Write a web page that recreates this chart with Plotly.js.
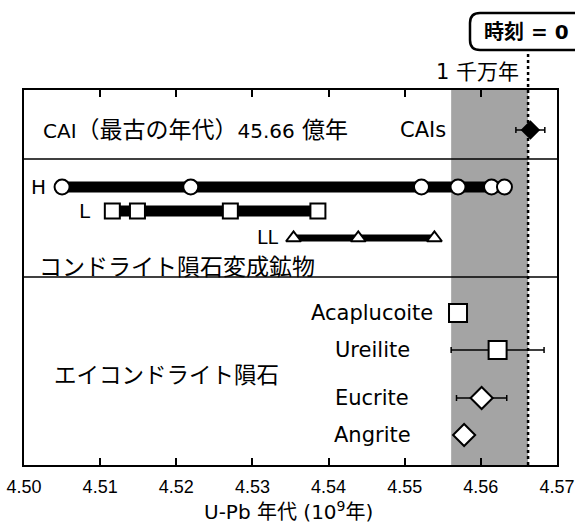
<!DOCTYPE html>
<html><head><meta charset="utf-8">
<script src="https://cdn.plot.ly/plotly-3.0.1.min.js"></script>
<style>html,body{margin:0;padding:0;background:#fff}#chart{width:575px;height:531px}</style>
</head><body><div id="chart"></div>
<script>
// ---------------- data ----------------
const caiAge = [4.5665];
const caiErr = [0.0019];
const hAges = [4.5050, 4.5219, 4.5522, 4.5570, 4.5614, 4.5631];
const lAges = [4.5116, 4.5149, 4.5271, 4.5386];
const llAges = [4.5354, 4.5439, 4.5539];
const achondrites = ['Acaplucoite', 'Ureilite', 'Eucrite', 'Angrite'];
const achondriteAges = [4.5570, 4.5622, 4.5601, 4.5578];
const achondriteErr = [0, 0.0061, 0.0033, 0];
const shadeRange = [4.5561, 4.5662];   // 1千万年 window
const timeZero = 4.5662;               // 時刻 = 0
const xTicks = [4.50, 4.51, 4.52, 4.53, 4.54, 4.55, 4.56, 4.57];
const xTickLabels = ['4.50', '4.51', '4.52', '4.53', '4.54', '4.55', '4.56', '4.57'];

// ---------------- layout helpers ----------------
const W = 575, H = 531;
const PL = 24, PR = 557, PT = 90, PB = 465;
const fx = px => (px - PL) / (PR - PL);
const fy = py => (PB - py) / (PB - PT);
// row positions (y axis runs in screen units, top = 90, bottom = 465)
const rowY = {CAI: 130, H: 187, L: 211, LL: 238,
  Acaplucoite: 313, Ureilite: 350, Eucrite: 398, Angrite: 435};
const achStyle = {
  Acaplucoite: {symbol: 'square', size: 18},
  Ureilite: {symbol: 'square', size: 18},
  Eucrite: {symbol: 'diamond', size: 17},
  Angrite: {symbol: 'diamond', size: 17}
};
const LAT = 'DejaVu Sans, Noto Sans CJK JP, sans-serif';
const JP = 'Noto Sans CJK JP, sans-serif';
const rep = (v, n) => Array(n).fill(v);
const openMarker = (symbol, size) => ({symbol, size, color: 'white', line: {color: 'black', width: 2}});

const traces = [
  {x: hAges, y: rep(rowY.H, hAges.length), type: 'scatter', mode: 'lines+markers',
   line: {color: 'black', width: 11}, marker: openMarker('circle', 15), hoverinfo: 'x'},
  {x: lAges, y: rep(rowY.L, lAges.length), type: 'scatter', mode: 'lines+markers',
   line: {color: 'black', width: 11}, marker: openMarker('square', 15), hoverinfo: 'x'},
  {x: llAges, y: rep(rowY.LL, llAges.length), type: 'scatter', mode: 'lines+markers',
   line: {color: 'black', width: 7}, marker: openMarker('triangle-up', 13), hoverinfo: 'x'},
  {x: caiAge, y: [rowY.CAI], type: 'scatter', mode: 'markers',
   marker: {symbol: 'diamond', size: 15, color: 'black'},
   error_x: {type: 'data', array: caiErr, color: 'black', thickness: 1.5, width: 3}, hoverinfo: 'x'}
];
achondrites.forEach((name, i) => {
  const st = achStyle[name];
  traces.push({x: [achondriteAges[i]], y: [rowY[name]], type: 'scatter', mode: 'markers',
    marker: openMarker(st.symbol, st.size), name,
    error_x: {type: 'data', array: [achondriteErr[i]], visible: achondriteErr[i] > 0,
              color: 'black', thickness: 1.5, width: 3}, hoverinfo: 'x+name'});
});

const ann = (text, px, py, xanchor, size, family) => ({
  text, x: fx(px), y: fy(py), xref: 'paper', yref: 'paper', xanchor, yanchor: 'middle',
  showarrow: false, font: {size, family, color: 'black'}
});
const lat = (t, s) => `<span style="font-family:DejaVu Sans;font-size:${s}px">${t}</span>`;

const annotations = [
  ann(lat('CAI', 20) + '（最古の年代）' + lat('45.66', 20) + ' 億年', 41, 130, 'left', 23, LAT),
  ann('CAIs', 398, 130, 'left', 21, LAT),
  ann('H', 48, 187, 'right', 20, LAT),
  ann('L', 93, 211, 'right', 20, LAT),
  ann('LL', 281, 237, 'right', 19, LAT),
  ann('コンドライト隕石変成鉱物', 37, 265, 'left', 23, JP),
  ann('エイコンドライト隕石', 52, 373, 'left', 22.5, JP),
  ann('1 千万年', 521, 72, 'right', 21, LAT),
  ann('<b>時刻 = 0</b>', 482, 32, 'left', 20, LAT),
  ann('U-Pb 年代 (10<sup>9</sup>年)', 288, 511, 'center', 20, LAT)
];
achondrites.forEach(name => annotations.push(ann(name, 372, rowY[name], 'center', 21, LAT)));

// rounded box for 時刻 = 0
const bx0 = 470, bx1 = 600, by0 = 13, by1 = 50, r = 10;
const boxPath = [
  `M${fx(bx0 + r)},${fy(by0)}`, `L${fx(bx1)},${fy(by0)}`, `L${fx(bx1)},${fy(by1)}`,
  `L${fx(bx0 + r)},${fy(by1)}`, `Q${fx(bx0)},${fy(by1)} ${fx(bx0)},${fy(by1 - r)}`,
  `L${fx(bx0)},${fy(by0 + r)}`, `Q${fx(bx0)},${fy(by0)} ${fx(bx0 + r)},${fy(by0)}`, 'Z'
].join(' ');

const shapes = [
  {type: 'rect', xref: 'x', yref: 'paper', x0: shadeRange[0], x1: shadeRange[1], y0: 0, y1: 1,
   fillcolor: '#a4a4a4', line: {width: 0}, layer: 'below'},
  {type: 'line', xref: 'paper', yref: 'paper', x0: 0, x1: 1, y0: fy(159), y1: fy(159),
   line: {color: 'black', width: 1.5}},
  {type: 'line', xref: 'paper', yref: 'paper', x0: 0, x1: 1, y0: fy(277), y1: fy(277),
   line: {color: 'black', width: 1.5}},
  {type: 'line', xref: 'x', yref: 'paper', x0: timeZero, x1: timeZero, y0: 0, y1: fy(50),
   line: {color: 'black', width: 2.5, dash: 'dot'}},
  {type: 'path', xref: 'paper', yref: 'paper', path: boxPath, fillcolor: 'white',
   line: {color: 'black', width: 2.5}}
];

const layout = {
  width: W, height: H,
  margin: {l: PL, r: W - PR, t: PT, b: H - PB, pad: 0},
  paper_bgcolor: 'white', plot_bgcolor: 'white',
  showlegend: false,
  font: {family: LAT, color: 'black'},
  xaxis: {range: [4.50, 4.57], tickvals: xTicks, ticktext: xTickLabels,
    ticks: 'inside', ticklen: 7, tickwidth: 2, tickcolor: 'black',
    showline: true, linewidth: 2, linecolor: 'black', mirror: 'ticks',
    showgrid: false, zeroline: false, ticklabelstandoff: 4,
    tickfont: {size: 18, family: 'Liberation Sans Narrow, Liberation Sans, Arial, sans-serif'},
    fixedrange: true},
  yaxis: {range: [PB, PT], showline: true, linewidth: 2, linecolor: 'black', mirror: true,
    showticklabels: false, ticks: '', showgrid: false, zeroline: false, fixedrange: true},
  annotations, shapes
};

Plotly.newPlot('chart', traces, layout, {displayModeBar: false, staticPlot: true});
</script>
</body></html>
